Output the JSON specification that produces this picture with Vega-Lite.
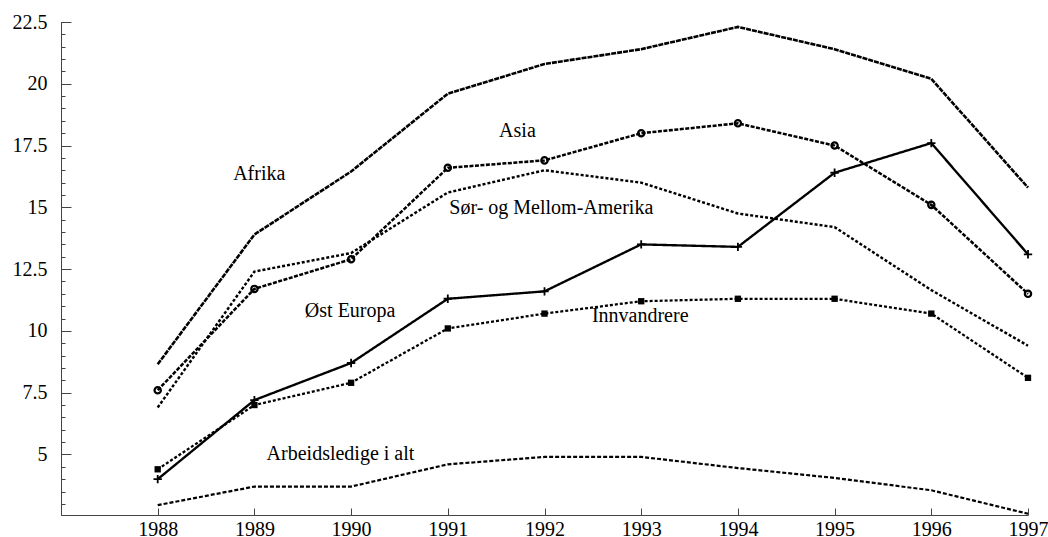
{
  "$schema": "https://vega.github.io/schema/vega-lite/v6.json",
  "width": 967,
  "height": 493,
  "autosize": "none",
  "padding": {"left": 61, "top": 22, "right": 20, "bottom": 22},
  "background": "white",
  "config": {"view": {"stroke": null}, "font": "Liberation Serif"},
  "resolve": {"scale": {"y": "shared", "x": "shared"}, "axis": {"y": "independent"}},
  "datasets": {
    "series": [
      {"series": "Afrika", "year": 1988, "value": 8.65},
      {"series": "Afrika", "year": 1989, "value": 13.9},
      {"series": "Afrika", "year": 1990, "value": 16.45},
      {"series": "Afrika", "year": 1991, "value": 19.6},
      {"series": "Afrika", "year": 1992, "value": 20.8},
      {"series": "Afrika", "year": 1993, "value": 21.4},
      {"series": "Afrika", "year": 1994, "value": 22.3},
      {"series": "Afrika", "year": 1995, "value": 21.4},
      {"series": "Afrika", "year": 1996, "value": 20.2},
      {"series": "Afrika", "year": 1997, "value": 15.8},
      {"series": "Asia", "year": 1988, "value": 7.6},
      {"series": "Asia", "year": 1989, "value": 11.7},
      {"series": "Asia", "year": 1990, "value": 12.9},
      {"series": "Asia", "year": 1991, "value": 16.6},
      {"series": "Asia", "year": 1992, "value": 16.9},
      {"series": "Asia", "year": 1993, "value": 18.0},
      {"series": "Asia", "year": 1994, "value": 18.4},
      {"series": "Asia", "year": 1995, "value": 17.5},
      {"series": "Asia", "year": 1996, "value": 15.1},
      {"series": "Asia", "year": 1997, "value": 11.5},
      {"series": "Sør- og Mellom-Amerika", "year": 1988, "value": 6.9},
      {"series": "Sør- og Mellom-Amerika", "year": 1989, "value": 12.4},
      {"series": "Sør- og Mellom-Amerika", "year": 1990, "value": 13.15},
      {"series": "Sør- og Mellom-Amerika", "year": 1991, "value": 15.6},
      {"series": "Sør- og Mellom-Amerika", "year": 1992, "value": 16.5},
      {"series": "Sør- og Mellom-Amerika", "year": 1993, "value": 16.0},
      {"series": "Sør- og Mellom-Amerika", "year": 1994, "value": 14.75},
      {"series": "Sør- og Mellom-Amerika", "year": 1995, "value": 14.2},
      {"series": "Sør- og Mellom-Amerika", "year": 1996, "value": 11.65},
      {"series": "Sør- og Mellom-Amerika", "year": 1997, "value": 9.4},
      {"series": "Øst Europa", "year": 1988, "value": 4.0},
      {"series": "Øst Europa", "year": 1989, "value": 7.2},
      {"series": "Øst Europa", "year": 1990, "value": 8.7},
      {"series": "Øst Europa", "year": 1991, "value": 11.3},
      {"series": "Øst Europa", "year": 1992, "value": 11.6},
      {"series": "Øst Europa", "year": 1993, "value": 13.5},
      {"series": "Øst Europa", "year": 1994, "value": 13.4},
      {"series": "Øst Europa", "year": 1995, "value": 16.4},
      {"series": "Øst Europa", "year": 1996, "value": 17.6},
      {"series": "Øst Europa", "year": 1997, "value": 13.1},
      {"series": "Innvandrere", "year": 1988, "value": 4.4},
      {"series": "Innvandrere", "year": 1989, "value": 7.0},
      {"series": "Innvandrere", "year": 1990, "value": 7.9},
      {"series": "Innvandrere", "year": 1991, "value": 10.1},
      {"series": "Innvandrere", "year": 1992, "value": 10.7},
      {"series": "Innvandrere", "year": 1993, "value": 11.2},
      {"series": "Innvandrere", "year": 1994, "value": 11.3},
      {"series": "Innvandrere", "year": 1995, "value": 11.3},
      {"series": "Innvandrere", "year": 1996, "value": 10.7},
      {"series": "Innvandrere", "year": 1997, "value": 8.1},
      {"series": "Arbeidsledige i alt", "year": 1988, "value": 2.95},
      {"series": "Arbeidsledige i alt", "year": 1989, "value": 3.7},
      {"series": "Arbeidsledige i alt", "year": 1990, "value": 3.7},
      {"series": "Arbeidsledige i alt", "year": 1991, "value": 4.6},
      {"series": "Arbeidsledige i alt", "year": 1992, "value": 4.9},
      {"series": "Arbeidsledige i alt", "year": 1993, "value": 4.9},
      {"series": "Arbeidsledige i alt", "year": 1994, "value": 4.45},
      {"series": "Arbeidsledige i alt", "year": 1995, "value": 4.05},
      {"series": "Arbeidsledige i alt", "year": 1996, "value": 3.55},
      {"series": "Arbeidsledige i alt", "year": 1997, "value": 2.6}
    ],
    "labels": [
      {"text": "Afrika", "year": 1989.05, "value": 16.35},
      {"text": "Asia", "year": 1991.72, "value": 18.09},
      {"text": "Sør- og Mellom-Amerika", "year": 1992.07, "value": 14.97},
      {"text": "Øst Europa", "year": 1989.99, "value": 10.8},
      {"text": "Innvandrere", "year": 1992.99, "value": 10.6},
      {"text": "Arbeidsledige i alt", "year": 1989.89, "value": 5.01}
    ]
  },
  "layer": [
    {
      "data": {"name": "series"},
      "mark": {"type": "line", "color": "black", "clip": false},
      "encoding": {
        "x": {
          "field": "year", "type": "quantitative",
          "scale": {"domain": [1987, 1997], "nice": false, "zero": false},
          "axis": {
            "title": null, "grid": false,
            "values": [1988, 1989, 1990, 1991, 1992, 1993, 1994, 1995, 1996, 1997],
            "format": "d", "labelFlush": false, "labelOverlap": false,
            "tickSize": -7, "labelPadding": 11,
            "domainColor": "#444", "tickColor": "#444",
            "labelFont": "Liberation Serif", "labelFontSize": 20, "labelColor": "black"
          }
        },
        "y": {
          "field": "value", "type": "quantitative",
          "scale": {"domain": [2.55, 22.5], "nice": false, "zero": false},
          "axis": {
            "orient": "left", "title": null, "grid": false, "labels": false,
            "values": [3, 3.5, 4, 4.5, 5, 5.5, 6, 6.5, 7, 7.5, 8, 8.5, 9, 9.5, 10, 10.5, 11, 11.5, 12, 12.5, 13, 13.5, 14, 14.5, 15, 15.5, 16, 16.5, 17, 17.5, 18, 18.5, 19, 19.5, 20, 20.5, 21, 21.5, 22, 22.5],
            "tickSize": -4,
            "domainColor": "#444", "tickColor": "#444"
          }
        },
        "detail": {"field": "series"},
        "strokeDash": {
          "field": "series", "type": "nominal",
          "scale": {
            "domain": ["Afrika", "Asia", "Sør- og Mellom-Amerika", "Øst Europa", "Innvandrere", "Arbeidsledige i alt"],
            "range": [[5, 1], [4, 1.5], [3, 2], [1, 0], [3, 2], [4, 2]]
          },
          "legend": null
        },
        "strokeWidth": {
          "field": "series", "type": "nominal",
          "scale": {
            "domain": ["Afrika", "Asia", "Sør- og Mellom-Amerika", "Øst Europa", "Innvandrere", "Arbeidsledige i alt"],
            "range": [2.6, 2.2, 1, 2, 1, 1.2]
          },
          "legend": null
        }
      }
    },
    {
      "data": {"name": "series"},
      "transform": [{"filter": "datum.series === 'Asia'"}],
      "mark": {"type": "point", "shape": "circle", "filled": false, "stroke": "black", "strokeWidth": 2.2, "size": 40, "opacity": 1},
      "encoding": {
        "x": {"field": "year", "type": "quantitative"},
        "y": {
          "field": "value", "type": "quantitative",
          "axis": {
            "orient": "left", "title": null, "grid": false,
            "values": [5, 7.5, 10, 12.5, 15, 17.5, 20, 22.5],
            "labelExpr": "'' + datum.value",
            "tickSize": -10, "labelPadding": 24, "labelOverlap": false,
            "domainColor": "#444", "tickColor": "#444",
            "labelFont": "Liberation Serif", "labelFontSize": 20, "labelColor": "black"
          }
        }
      }
    },
    {
      "data": {"name": "series"},
      "transform": [{"filter": "datum.series === 'Øst Europa'"}],
      "mark": {"type": "point", "shape": "M-1,0L1,0M0,-1L0,1", "filled": false, "stroke": "black", "strokeWidth": 1.8, "size": 70, "opacity": 1},
      "encoding": {
        "x": {"field": "year", "type": "quantitative"},
        "y": {"field": "value", "type": "quantitative", "axis": null}
      }
    },
    {
      "data": {"name": "series"},
      "transform": [{"filter": "datum.series === 'Innvandrere'"}],
      "mark": {"type": "point", "shape": "square", "filled": true, "fill": "black", "size": 40, "opacity": 1},
      "encoding": {
        "x": {"field": "year", "type": "quantitative"},
        "y": {"field": "value", "type": "quantitative", "axis": null}
      }
    },
    {
      "data": {"name": "labels"},
      "mark": {"type": "text", "font": "Liberation Serif", "fontSize": 20, "color": "black", "align": "center", "baseline": "middle"},
      "encoding": {
        "x": {"field": "year", "type": "quantitative"},
        "y": {"field": "value", "type": "quantitative", "axis": null},
        "text": {"field": "text"}
      }
    }
  ]
}
